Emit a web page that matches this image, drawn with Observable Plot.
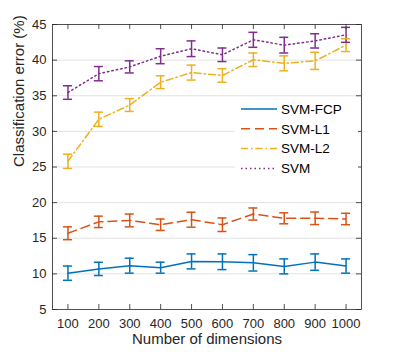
<!DOCTYPE html>
<html><head><meta charset="utf-8">
<script src="https://cdn.jsdelivr.net/npm/d3@7"></script>
<script src="https://cdn.jsdelivr.net/npm/@observablehq/plot@0.6"></script>
<style>
body{margin:0;background:#fff}
#chart{position:relative;width:399px;height:352px}
</style>
</head><body><div id="chart"></div>
<script>
const dims = [100, 200, 300, 400, 500, 600, 700, 800, 900, 1000];
const xTicks = [100, 200, 300, 400, 500, 600, 700, 800, 900, 1000];
const yTicks = [5, 10, 15, 20, 25, 30, 35, 40, 45];
const seriesNames = ["SVM-FCP", "SVM-L1", "SVM-L2", "SVM"];

const fcpMean = [10.1, 10.7, 11.15, 10.87, 11.75, 11.7, 11.55, 11.05, 11.65, 11.1];
const fcpErr  = [1.0, 0.93, 1.05, 0.77, 1.05, 1.1, 1.15, 1.05, 1.15, 1.0];
const l1Mean  = [15.7, 17.3, 17.5, 16.9, 17.6, 16.9, 18.4, 17.8, 17.8, 17.7];
const l1Err   = [0.9, 0.8, 0.9, 0.8, 1.05, 0.95, 0.85, 0.77, 0.88, 0.8];
const l2Mean  = [25.8, 31.7, 33.7, 36.9, 38.25, 37.85, 40.05, 39.55, 39.9, 42.1];
const l2Err   = [1.0, 1.0, 0.9, 0.9, 1.05, 0.95, 0.95, 1.05, 1.2, 0.9];
const svmMean = [35.45, 38.1, 39.05, 40.55, 41.6, 40.75, 42.85, 42.1, 42.7, 43.55];
const svmErr  = [0.95, 1.0, 0.85, 1.05, 1.1, 0.95, 1.05, 1.1, 1.0, 1.05];

const xLabel = "Number of dimensions";
const yLabel = "Classification error (%)";

const colors = ["#0072BD", "#D95319", "#EDB120", "#7E2F8E"];
const dashes = [null, "9,5", "7,3,1.5,3", "1.5,3"];

const means = [fcpMean, l1Mean, l2Mean, svmMean];
const errs = [fcpErr, l1Err, l2Err, svmErr];
const rows = [];
seriesNames.forEach((s, k) => {
  dims.forEach((d, i) => {
    rows.push({series: s, x: d, y: means[k][i], lo: means[k][i] - errs[k][i], hi: means[k][i] + errs[k][i]});
  });
});

const W = 399, H = 352, mL = 52, mR = 38, mT = 24, mB = 43;
const pw = W - mL - mR, ph = H - mT - mB;
const axisColor = "#262626";
const font = "'Liberation Sans', Arial, Helvetica, sans-serif";

const lineMarks = seriesNames.map((s, k) =>
  Plot.line(rows.filter(r => r.series === s), {x: "x", y: "y", stroke: colors[k], strokeWidth: 1.5, strokeDasharray: dashes[k]})
);

const plot = Plot.plot({
  width: W, height: H,
  marginLeft: mL, marginRight: mR, marginTop: mT, marginBottom: mB,
  style: {fontFamily: font, fontSize: "13px", color: axisColor, background: "white"},
  x: {domain: [50, 1050]},
  y: {domain: [5, 45]},
  color: {domain: seriesNames, range: colors},
  marks: [
    Plot.gridY(yTicks.slice(1, -1), {stroke: "#e3e3e3", strokeOpacity: 1, strokeWidth: 1}),
    ...lineMarks,
    Plot.ruleX(rows, {x: "x", y1: "lo", y2: "hi", stroke: "series", strokeWidth: 1.5}),
    Plot.ruleY(rows, {y: "lo", x1: "x", x2: "x", insetLeft: -4.5, insetRight: -4.5, stroke: "series", strokeWidth: 1.5}),
    Plot.ruleY(rows, {y: "hi", x1: "x", x2: "x", insetLeft: -4.5, insetRight: -4.5, stroke: "series", strokeWidth: 1.5}),
    Plot.frame({stroke: axisColor, strokeWidth: 0.8}),
    Plot.tickX(xTicks, {x: d => d, insetTop: ph - 5, stroke: axisColor, strokeWidth: 0.8}),
    Plot.tickX(xTicks, {x: d => d, insetBottom: ph - 5, stroke: axisColor, strokeWidth: 0.8}),
    Plot.tickY(yTicks, {y: d => d, insetRight: pw - 5, stroke: axisColor, strokeWidth: 0.8}),
    Plot.tickY(yTicks, {y: d => d, insetLeft: pw - 5, stroke: axisColor, strokeWidth: 0.8}),
    Plot.axisX(xTicks, {tickSize: 0, tickPadding: 9, label: null, fill: axisColor, tickFormat: d => String(d)}),
    Plot.axisY(yTicks, {tickSize: 0, tickPadding: 6, label: null, fill: axisColor, tickFormat: d => String(d)}),
    Plot.text([xLabel], {text: d => d, frameAnchor: "bottom", dy: 34, fontSize: 15, fill: axisColor}),
    Plot.text([yLabel], {text: d => d, frameAnchor: "left", dx: -33, rotate: -90, fontSize: 15, fill: axisColor})
  ]
});

document.getElementById("chart").appendChild(plot);

// legend (inside axes, white background, no border)
const svg = d3.select(plot);
const lg = svg.append("g").attr("font-family", font).attr("font-size", 13.5).attr("text-anchor", "start");
lg.append("rect").attr("x", 235).attr("y", 98).attr("width", 123).attr("height", 82).attr("fill", "white");
const rowY0 = 109, rowStep = 19.8;
seriesNames.forEach((s, k) => {
  const yy = rowY0 + k * rowStep;
  lg.append("line").attr("x1", 241).attr("x2", 277).attr("y1", yy).attr("y2", yy)
    .attr("stroke", colors[k]).attr("stroke-width", 1.5).attr("stroke-dasharray", dashes[k]);
  lg.append("text").attr("x", 281).attr("y", yy).attr("dy", "0.35em").attr("text-anchor", "start").attr("fill", "#000").text(s);
});
</script>
</body></html>
